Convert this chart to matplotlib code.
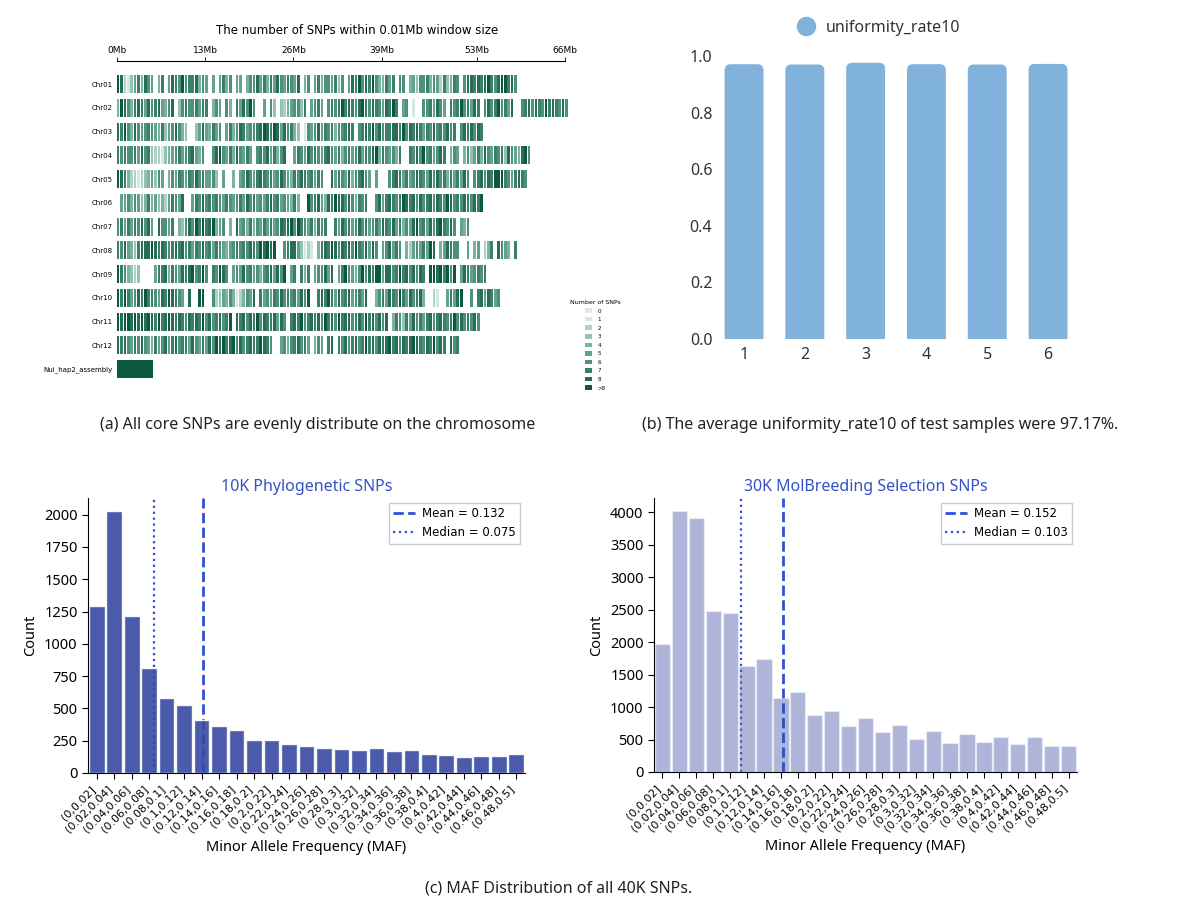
import matplotlib.pyplot as plt
import numpy as np
from matplotlib.colors import ListedColormap, BoundaryNorm
from matplotlib.patches import Patch, FancyBboxPatch
from matplotlib.lines import Line2D

plt.rcParams['font.family'] = ['DejaVu Sans']

# ---------- (a) SNP density along chromosomes ----------
# one character per 0.5Mb block: '.' = no window, 0-8 = SNP count, 9 = >8
window_mb = 0.5
chrom_names = ['Chr01', 'Chr02', 'Chr03', 'Chr04', 'Chr05', 'Chr06',
               'Chr07', 'Chr08', 'Chr09', 'Chr10', 'Chr11', 'Chr12']
chrom_density = [
    "9821357486" "5.47.58769" "6778465.5." "5746.55.46" "6857475865" "7658.46.57"
    "4665736.58" "7968796447" "57.66.4536" "6746527347" "6.68878789" "76899786",
    "4986478758" "6785468.36" "7667577.46" "5.64.75869" "6..5.63.32" "456637.567"
    "5.67679787" "6897687658" "797.56.1.." "6675865.76" "7967587.68" "6796758..6"
    "7868769787" "686",
    "8796486567" "6547356864" "3..3585475" "6.57468756" "6789879858" "6743.16568"
    "5767466787" ".678796867" "7887968787" "5768676867" ".6878687",
    "7676675867" "3221345675" "678546..68" "9657486575" ".676857468" "..57658676"
    "5786574675" "6857689476" "5647..7686" "9675687.46" "5.46357486" "5767386548" "96",
    "9874221234" "5365.46576" "5768675563" ".5..4.5686" "5787675686" "5476876757"
    "6..8576584" "67865.5..." "6787575687" "6586867475" "7586.67868" "7999765787" "6",
    ".556465347" "4534257658" "..57686767" "6576567586" "7565786756" "5474..9678"
    "5487988686" "4767..6857" "8767987868" "6786876986" "76876879",
    "6757576868" "5.86657.43" "6869797894" "56.4.85647" "4657575687" "8969765747"
    "67..758675" "6867567587" "6857465896" "7586897686" ".546",
    "7685437888" "9878767878" "6757686757" "6545676768" "7698989..6" "78853121.4"
    "7879868786" "9768586.56" "8576.42565" "7598.45876" "6..5.45.24" "7.8654.7",
    "9764323..." ".577847658" "7896796.76" "986.565867" "5646785869" ".57.747.56"
    "6858.57965" "4696879958" "8679786868" "7.99897969" ".58756767",
    "9797568797" "7658798765" ".8..99..62" "3546412465" "8.75657686" "7675869..7"
    "8797586785" "6758..4675" "8769758678" "4..21..575" "89..6.7858" "756",
    "9899898989" "8797898787" "6878796867" "8679.87868" "7968778586" ".787967878"
    "6978697886" "7869786868" ".476375867" "5786787679" "6867686",
    "8786576865" "4756857867" "7586575869" "8978968678" "779876..56" "4678675.46"
    "5.78.76867" "8679786878" "9786878987" "6879687.86" "7",
]
assembly_name = 'Nui_hap2_assembly'
assembly_length_mb = 5.3
assembly_level = 9
density_labels = ['0', '1', '2', '3', '4', '5', '6', '7', '8', '>8']
axis_ticks_mb = [0, 13, 26, 39, 53, 66]

# ---------- (b) uniformity rate ----------
samples = [1, 2, 3, 4, 5, 6]
uniformity = [0.971, 0.970, 0.976, 0.971, 0.970, 0.972]

# ---------- (c) MAF distributions ----------
maf_bins = ['(0,0.02]', '(0.02,0.04]', '(0.04,0.06]', '(0.06,0.08]', '(0.08,0.1]',
            '(0.1,0.12]', '(0.12,0.14]', '(0.14,0.16]', '(0.16,0.18]', '(0.18,0.2]',
            '(0.2,0.22]', '(0.22,0.24]', '(0.24,0.26]', '(0.26,0.28]', '(0.28,0.3]',
            '(0.3,0.32]', '(0.32,0.34]', '(0.34,0.36]', '(0.36,0.38]', '(0.38,0.4]',
            '(0.4,0.42]', '(0.42,0.44]', '(0.44,0.46]', '(0.46,0.48]', '(0.48,0.5]']
bin_width = 0.02
phylo_counts = [1296, 2028, 1216, 810, 577, 530, 409, 365, 334, 254, 254, 228, 212,
                197, 186, 176, 191, 168, 178, 145, 137, 124, 129, 134, 147]
breeding_counts = [1969, 4021, 3913, 2488, 2447, 1640, 1743, 1141, 1229, 874, 946, 715,
                   828, 612, 720, 504, 638, 447, 591, 458, 540, 432, 545, 401, 401]
phylo_mean, phylo_median = 0.132, 0.075
breeding_mean, breeding_median = 0.152, 0.103

fig = plt.figure(figsize=(12, 9.21), dpi=100)

# ---- panel a ----
palette = ['#e6e6e6', '#d3e9e2', '#add3c8', '#93c3b5', '#7bb3a3', '#64a290',
           '#4d907c', '#3b7f6a', '#266e57', '#0b5a40']
cmap = ListedColormap(palette)
norm = BoundaryNorm(np.arange(-0.5, 10.5), cmap.N)

ax = fig.add_axes([0.0973, 0.5863, 0.3793, 0.3475])
for i, dens in enumerate(chrom_density):
    pos = np.array([k for k, c in enumerate(dens) if c != '.'])
    lev = np.array([int(c) for c in dens if c != '.'])
    # each block drawn as a stripe with a thin white seam, as in the window heatmap
    ax.bar(pos * window_mb, 0.76, width=window_mb * 0.8, bottom=i - 0.38,
           align='edge', color=cmap(norm(lev)), linewidth=0)
n = len(chrom_density)
ax.bar(0, 0.76, width=assembly_length_mb, bottom=n - 0.38, align='edge',
       color=cmap(norm(assembly_level)), linewidth=0)
ax.set_xlim(0, 67)
ax.set_ylim(n + 0.5, -0.97)
ax.xaxis.tick_top()
ax.set_xticks(axis_ticks_mb)
ax.set_xticklabels([f'{t}Mb' for t in axis_ticks_mb])
ax.tick_params(axis='x', length=3, width=0.6, labelsize=6.5, pad=1)
ax.set_yticks(range(n + 1))
ax.set_yticklabels(chrom_names + [assembly_name])
ax.tick_params(axis='y', length=0, labelsize=5, pad=3)
for s in ['left', 'right', 'bottom']:
    ax.spines[s].set_visible(False)
ax.spines['top'].set_bounds(0, 66)
ax.spines['top'].set_linewidth(0.8)
fig.text(357 / 1200, 1 - 30 / 921, 'The number of SNPs within 0.01Mb window size',
         ha='center', va='center', fontsize=8.5)
handles = [Patch(facecolor=c, edgecolor='none') for c in palette]
fig.legend(handles, density_labels, title='Number of SNPs', loc='upper left',
           bbox_to_anchor=(565 / 1200, 1 - 295 / 921), frameon=False, fontsize=4,
           title_fontsize=4.5, handlelength=1.2, handleheight=0.9, labelspacing=0.6,
           handletextpad=1.0)

# ---- panel b ----
bar_color = '#80b2db'
axb = fig.add_axes([0.5947, 0.6319, 0.304, 0.3073])
for x, v in zip(samples, uniformity):
    axb.add_patch(FancyBboxPatch((x - 0.32, -0.05), 0.64, v + 0.05,
                                 boxstyle='round,pad=0,rounding_size=0.1',
                                 mutation_aspect=0.215, facecolor=bar_color,
                                 edgecolor='none'))
axb.set_xlim(0.5, 6.5)
axb.set_ylim(0, 1.0)
axb.set_xticks(samples)
axb.set_yticks([0, 0.2, 0.4, 0.6, 0.8, 1.0])
axb.set_yticklabels([f'{t:.1f}' for t in [0, 0.2, 0.4, 0.6, 0.8, 1.0]])
axb.tick_params(length=0, labelsize=11.5, colors='#333333')
axb.tick_params(axis='y', pad=1)
axb.tick_params(axis='x', pad=6)
for lab in axb.get_xticklabels() + axb.get_yticklabels():
    lab.set_family('Noto Sans')
for s in axb.spines.values():
    s.set_visible(False)
fig.legend([Line2D([0], [0], marker='o', ls='', color=bar_color, markersize=13)],
           ['uniformity_rate10'], loc='center', bbox_to_anchor=(875 / 1200, 1 - 28 / 921),
           frameon=False, prop={'family': 'Noto Sans', 'size': 11.5}, labelcolor='#333333',
           handletextpad=0.2)

# ---- captions ----
cap = {'family': 'Noto Sans', 'size': 11.5, 'color': '#222222'}
fig.text(318 / 1200, 1 - 425 / 921, '(a) All core SNPs are evenly distribute on the chromosome',
         ha='center', va='center', **cap)
fig.text(880 / 1200, 1 - 425 / 921, '(b) The average uniformity_rate10 of test samples were 97.17%.',
         ha='center', va='center', **cap)
fig.text(559 / 1200, 1 - 888 / 921, '(c) MAF Distribution of all 40K SNPs.',
         ha='center', va='center', **cap)

# ---- panel c ----
line_color = '#2f4fd6'
base_color = '#3848a2'


def draw_hist(axh, counts, alpha, mean, median, title, yticks):
    x = np.arange(len(counts))
    axh.axvline(mean / bin_width - 0.5, color=line_color, ls='--', lw=2,
                label=f'Mean = {mean:.3f}', zorder=1)
    axh.axvline(median / bin_width - 0.5, color=line_color, ls=':', lw=1.6,
                label=f'Median = {median:.3f}', zorder=1)
    axh.bar(x, counts, width=0.9, color=base_color, alpha=alpha,
            edgecolor='white', linewidth=1, zorder=2)
    axh.set_xlim(-0.5, len(counts) - 0.5)
    axh.set_ylim(0, max(counts) * 1.05)
    axh.set_xticks(x)
    axh.set_xticklabels(maf_bins, rotation=45, ha='right', fontsize=8)
    axh.set_yticks(yticks)
    axh.tick_params(axis='y', labelsize=10.5)
    for lab in axh.get_yticklabels():
        lab.set_family('Noto Sans')
    axh.tick_params(length=4, width=0.8)
    axh.spines['top'].set_visible(False)
    axh.spines['right'].set_visible(False)
    axh.set_xlabel('Minor Allele Frequency (MAF)', family='Noto Sans', fontsize=10.5)
    axh.set_ylabel('Count', family='Noto Sans', fontsize=10.5)
    axh.set_title(title, color='#3550c8', family='Noto Sans', fontsize=11.5, pad=5)
    axh.legend(loc='upper right', fontsize=8.5, framealpha=1, edgecolor='#cccccc',
               fancybox=False, handlelength=1.8, handletextpad=0.6, borderaxespad=0.4)


ax1 = fig.add_axes([0.0733, 0.1607, 0.3642, 0.2986])
draw_hist(ax1, phylo_counts, 0.9, phylo_mean, phylo_median,
          '10K Phylogenetic SNPs', np.arange(0, 2001, 250))
ax2 = fig.add_axes([0.545, 0.1618, 0.3525, 0.2975])
draw_hist(ax2, breeding_counts, 0.4, breeding_mean, breeding_median,
          '30K MolBreeding Selection SNPs', np.arange(0, 4001, 500))

fig.savefig('out.png', dpi=100, facecolor='white')
